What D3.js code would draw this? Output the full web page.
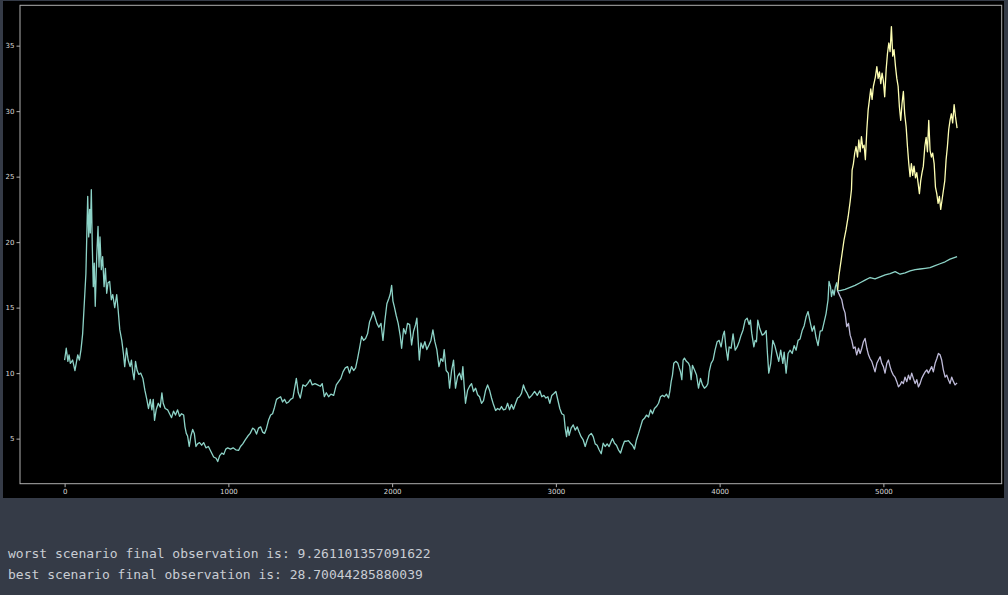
<!DOCTYPE html>
<html>
<head>
<meta charset="utf-8">
<script src="https://cdn.jsdelivr.net/npm/d3@7"></script>
<style>
  html, body { margin: 0; padding: 0; background: #353b47; }
  svg { display: block; }
</style>
</head>
<body>
<svg id="chart" width="1008" height="595"></svg>
<script>
// ---------------- data ----------------
const mainT = [0,10,20,27,35,49,63,80,90,100,110,120,130,141,147,153,157,163,169,175,181,187,196,204,210,216,224,232,241,249,257,265,275,285,294,306,318,327,337,349,359,367,378,388,400,408,416,424,433,443,453,465,478,490,502,512,523,533,541,549,559,572,584,594,602,614,629,641,653,665,677,690,702,714,727,735,743,751,761,771,782,792,802,812,824,837,849,863,878,894,910,925,935,947,960,972,984,996,1013,1029,1045,1062,1074,1088,1103,1119,1133,1148,1160,1172,1184,1197,1209,1221,1233,1245,1258,1270,1282,1294,1306,1319,1331,1343,1355,1368,1380,1394,1415,1427,1439,1455,1470,1484,1500,1512,1529,1545,1561,1573,1586,1598,1612,1626,1643,1659,1673,1687,1700,1714,1728,1740,1752,1765,1777,1789,1801,1814,1826,1838,1850,1862,1875,1883,1895,1907,1919,1932,1944,1956,1968,1980,1988,1997,2005,2013,2025,2037,2050,2058,2070,2082,2094,2107,2119,2131,2143,2151,2159,2166,2176,2188,2200,2212,2225,2237,2249,2261,2273,2286,2298,2310,2318,2330,2343,2351,2363,2375,2387,2400,2412,2424,2432,2440,2448,2461,2473,2485,2497,2510,2522,2534,2546,2558,2571,2583,2595,2607,2619,2632,2644,2656,2668,2680,2693,2705,2717,2729,2741,2754,2766,2778,2790,2802,2813,2825,2837,2853,2870,2886,2902,2914,2927,2939,2951,2963,2975,2988,3000,3012,3024,3036,3049,3057,3065,3073,3081,3093,3106,3118,3130,3142,3154,3167,3179,3191,3203,3216,3228,3240,3252,3264,3277,3289,3301,3313,3325,3338,3346,3358,3370,3382,3395,3407,3419,3431,3443,3456,3468,3480,3492,3505,3517,3529,3541,3553,3566,3578,3590,3602,3614,3627,3639,3651,3663,3675,3688,3696,3704,3712,3720,3732,3745,3753,3761,3769,3777,3785,3797,3810,3818,3826,3834,3846,3859,3871,3883,3895,3907,3920,3928,3936,3948,3960,3972,3985,3997,4009,4021,4029,4038,4050,4058,4070,4082,4095,4107,4119,4131,4143,4156,4168,4180,4188,4196,4209,4217,4225,4233,4245,4260,4272,4284,4292,4300,4312,4325,4337,4349,4361,4373,4386,4394,4406,4418,4430,4443,4455,4467,4479,4491,4504,4516,4528,4540,4553,4565,4577,4589,4601,4614,4626,4638,4650,4662,4668,4677,4683,4691,4699,4707,4715,4720];
const mainV = [11.0,11.9,10.9,11.4,10.75,11.0,10.2,11.4,11.0,11.8,13.0,15.3,17.6,23.5,20.4,22.5,20.7,24.0,19.7,16.6,18.4,15.1,18.9,21.2,18.1,20.4,17.9,18.9,16.6,18.0,16.1,16.9,17.0,15.6,16.0,15.0,16.0,14.8,13.3,12.5,11.5,10.5,11.9,11.0,10.5,11.0,10.1,9.5,10.9,10.2,9.9,10.0,9.6,8.7,8.0,7.3,8.0,7.2,8.0,6.4,7.2,7.7,7.4,8.5,7.7,7.3,7.2,6.9,6.6,7.1,6.8,7.2,6.7,6.9,6.8,5.9,5.4,5.2,4.4,5.2,5.7,5.4,4.4,4.6,4.7,4.5,4.7,4.3,4.4,4.0,3.6,3.5,3.25,3.7,3.9,3.8,4.2,4.3,4.2,4.3,4.15,4.1,4.4,4.6,4.9,5.2,5.4,5.8,5.7,5.35,5.8,5.9,5.5,5.4,5.8,6.4,6.8,6.9,7.4,8.0,8.1,8.2,7.8,8.0,7.7,7.8,8.0,8.1,9.6,8.5,8.1,9.1,9.0,9.2,9.5,9.1,9.2,9.1,9.0,9.2,8.2,8.5,8.2,8.4,8.3,9.1,9.35,9.6,10.1,10.4,10.5,10.0,10.5,10.2,10.4,11.1,11.9,12.8,12.5,12.65,13.0,13.9,14.3,14.7,14.3,13.8,13.5,13.8,12.5,14.05,15.3,15.7,16.0,16.7,15.5,15.1,14.4,13.8,12.8,11.9,13.4,13.0,13.8,13.7,12.15,13.2,13.7,14.2,12.5,11.0,12.3,11.9,12.4,11.8,12.15,12.5,13.3,12.4,11.8,10.5,11.1,10.9,11.8,10.2,10.0,8.85,10.2,11.0,8.85,9.75,10.0,9.5,10.5,9.0,7.7,8.7,9.0,9.2,8.6,8.85,8.35,8.2,7.7,7.9,8.7,9.1,8.7,8.1,7.6,7.15,7.3,7.2,7.45,7.2,7.25,7.7,7.2,7.6,7.25,7.7,8.1,8.2,8.45,9.1,8.7,8.45,8.1,8.3,8.6,8.3,8.65,8.2,8.3,8.1,8.2,7.7,8.3,8.45,8.6,7.95,7.3,6.9,6.8,5.8,5.15,5.9,5.25,5.8,6.05,5.65,5.9,5.5,5.15,4.9,4.4,4.9,5.25,5.4,5.15,4.6,4.5,4.15,3.85,4.65,4.4,4.6,4.4,4.8,5.0,4.65,4.5,4.15,3.9,4.4,4.8,4.8,4.85,4.65,4.5,4.2,4.9,5.4,5.9,6.4,6.55,6.8,6.65,7.2,6.9,7.3,7.45,7.7,8.2,8.3,8.2,8.4,8.1,8.6,9.35,9.85,10.75,10.9,10.75,10.4,10.1,9.5,11.0,11.15,10.9,10.75,10.5,9.5,10.6,10.25,9.85,8.85,9.6,9.1,8.85,9.0,9.2,10.1,10.75,11.0,11.75,12.4,12.5,12.0,12.9,13.2,12.0,11.0,12.0,11.9,13.0,11.75,12.0,12.4,12.9,13.3,14.05,14.2,13.7,14.05,13.05,12.0,12.5,12.4,14.05,13.4,12.9,13.0,13.25,11.5,10.0,10.75,12.5,12.1,11.5,10.9,11.75,10.75,11.6,10.0,11.5,11.75,11.5,12.1,11.75,12.5,12.6,13.25,13.6,14.3,14.7,13.9,13.2,13.6,12.7,12.1,13.2,13.25,13.9,14.55,15.6,17.0,16.6,15.85,16.35,15.95,16.6,16.9,16.3];

const worstT = [4720,4736,4746,4756,4766,4776,4787,4797,4807,4817,4827,4837,4848,4858,4868,4878,4888,4899,4909,4919,4929,4939,4949,4960,4970,4980,4990,5000,5010,5021,5031,5041,5051,5061,5071,5082,5092,5102,5112,5122,5132,5143,5153,5163,5173,5183,5194,5204,5214,5224,5234,5244,5255,5265,5275,5285,5295,5305,5316,5326,5336,5346,5356,5366,5377,5387,5397,5407,5417,5428,5438,5450];
const worstV = [16.3,15.85,15.6,14.95,14.6,13.55,13.8,12.9,12.5,11.9,12.0,11.4,11.9,11.5,11.9,12.4,12.65,11.9,11.4,11.1,10.9,10.5,10.1,10.75,11.0,11.25,10.75,10.5,10.0,10.75,11.0,10.5,10.1,9.85,9.7,9.35,8.95,9.1,9.35,9.2,9.7,9.35,9.85,9.5,10.0,9.6,9.2,9.5,8.95,9.2,9.6,9.85,10.1,10.25,10.0,10.25,10.5,10.1,10.75,11.1,11.5,11.4,11.0,10.25,9.7,9.85,9.5,9.2,9.7,9.35,9.1,9.261101357091622];

const bestT = [4720,4728,4736,4748,4760,4772,4785,4797,4805,4809,4817,4825,4833,4842,4850,4858,4866,4874,4882,4890,4899,4907,4915,4923,4931,4939,4951,4960,4968,4976,4984,4992,5000,5008,5017,5025,5033,5041,5049,5057,5065,5074,5082,5090,5098,5106,5114,5122,5130,5139,5147,5155,5163,5171,5179,5187,5196,5204,5212,5220,5228,5236,5244,5253,5261,5269,5277,5285,5293,5301,5310,5318,5326,5334,5342,5350,5358,5367,5375,5383,5391,5399,5407,5415,5423,5432,5440,5450];
const bestV = [16.3,17.4,18.1,19.15,20.2,20.95,21.96,23.1,24.0,25.5,26.0,26.8,27.3,26.5,27.8,26.9,28.05,27.2,27.4,26.3,28.6,30.1,30.9,31.7,30.9,31.9,32.6,33.4,32.5,33.0,32.1,32.9,32.3,31.1,33.2,34.4,35.2,34.55,36.45,34.2,34.7,33.4,32.5,31.9,30.3,29.3,30.6,31.5,29.8,28.8,27.3,26.0,25.0,26.0,25.1,25.8,24.9,25.3,24.5,23.7,24.7,25.3,25.8,27.3,28.0,26.9,29.3,27.0,26.5,26.8,26.0,24.2,23.7,22.96,23.5,22.5,23.2,24.0,24.7,26.3,27.3,28.6,29.3,29.8,29.1,30.5,29.6,28.70044285880039];

const meanT = [4720,4736,4766,4797,4827,4858,4888,4919,4949,4980,5011,5041,5072,5102,5133,5163,5194,5224,5255,5285,5316,5346,5377,5407,5450];
const meanV = [16.3,16.3,16.4,16.55,16.7,16.9,17.1,17.3,17.2,17.35,17.5,17.6,17.75,17.55,17.65,17.8,17.9,17.95,18.0,18.05,18.2,18.35,18.5,18.7,18.9];

const xTicks = [0,1000,2000,3000,4000,5000];
const yTicks = [5,10,15,20,25,30,35];
const outputLines = [
  "worst scenario final observation is: 9.261101357091622",
  "best scenario final observation is: 28.70044285880039"
];

// ---------------- drawing ----------------
const svg = d3.select("#chart");

// figure (black) area
svg.append("rect").attr("x", 3).attr("y", 1).attr("width", 1001).attr("height", 497).attr("fill", "#000");

const pLeft = 20, pRight = 1001.7, pTop = 5.3, pBottom = 483.7;
const x = d3.scaleLinear().domain([-272.5, 5722.5]).range([pLeft, pRight]);
const y = d3.scaleLinear().domain([1.56, 38.08]).range([pBottom, pTop]);

const toPts = (T, V) => T.map((t, i) => [t, V[i]]);
const line = d3.line().x(d => x(d[0])).y(d => y(d[1]));

const series = [
  { pts: toPts(mainT, mainV), color: "#8dd3c7" },
  { pts: toPts(worstT, worstV), color: "#bfbbd9" },
  { pts: toPts(bestT, bestV), color: "#feffb3" },
  { pts: toPts(meanT, meanV), color: "#8dd3c7" }
];

const plot = svg.append("g");
series.forEach(s => {
  plot.append("path").datum(s.pts).attr("d", line)
    .attr("fill", "none").attr("stroke", s.color)
    .attr("stroke-width", 1.3).attr("stroke-linejoin", "round");
});

// spines
svg.append("rect").attr("x", pLeft).attr("y", pTop)
  .attr("width", pRight - pLeft).attr("height", pBottom - pTop)
  .attr("fill", "none").attr("stroke", "#b0b0b0").attr("stroke-width", 1);

const xAxis = svg.append("g").attr("transform", `translate(0,${pBottom})`)
  .call(d3.axisBottom(x).tickValues(xTicks).tickSize(3.5).tickPadding(2).tickFormat(d3.format("d")));
const yAxis = svg.append("g").attr("transform", `translate(${pLeft},0)`)
  .call(d3.axisLeft(y).tickValues(yTicks).tickSize(3.5).tickPadding(2).tickFormat(d3.format("d")));

[xAxis, yAxis].forEach(a => {
  a.select(".domain").remove();
  a.selectAll(".tick line").attr("stroke", "#b0b0b0");
  a.selectAll(".tick text").attr("fill", "#d8d8d8")
    .style("font-family", "DejaVu Sans, sans-serif").style("font-size", "7px");
});

// printed output below figure
svg.selectAll("text.out").data(outputLines).enter().append("text")
  .attr("class", "out")
  .attr("x", 8).attr("y", (d, i) => 558 + i * 21)
  .attr("fill", "#c9cdd4")
  .style("font-family", "DejaVu Sans Mono, monospace")
  .style("font-size", "13px")
  .text(d => d);
</script>
</body>
</html>
